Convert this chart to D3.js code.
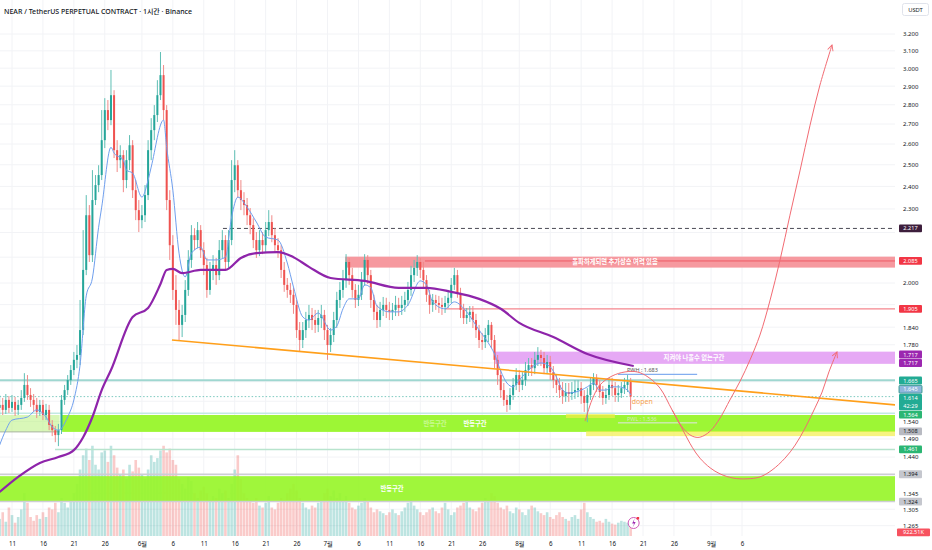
<!DOCTYPE html>
<html>
<head>
<meta charset="utf-8">
<script src="https://cdn.jsdelivr.net/npm/d3@7"></script>
<style>
  body { margin: 0; background: #fff; }
  svg { display: block; font-family: "Noto Sans", "Noto Sans CJK KR", sans-serif; }
</style>
</head>
<body>
<svg width="932" height="550"></svg>
<script>
"use strict";

// 12h candles starting 2025-05-09 00:00, open of each candle = previous close
const firstOpen = 1.58;
const closes = [
  1.589, 1.574, 1.604, 1.580, 1.598, 1.574, 1.589, 1.610, 1.650, 1.619,
  1.604, 1.589, 1.568, 1.589, 1.559, 1.574, 1.530, 1.515, 1.501, 1.515,
  1.604, 1.634, 1.665, 1.697, 1.730, 1.746, 1.830, 2.050, 2.273, 2.108,
  2.339, 2.406, 2.452, 2.619, 2.772, 2.720, 2.851, 2.570, 2.522, 2.546,
  2.429, 2.522, 2.594, 2.383, 2.295, 2.252, 2.273, 2.361, 2.570, 2.669,
  2.746, 2.851, 2.961, 2.772, 2.339, 2.148, 1.974, 1.901, 1.848, 1.883,
  1.974, 2.089, 2.189, 2.169, 2.210, 2.128, 2.069, 1.974, 2.050, 2.069,
  2.030, 2.128, 2.169, 2.081, 2.169, 2.429, 2.498, 2.383, 2.339, 2.317,
  2.273, 2.231, 2.169, 2.128, 2.169, 2.148, 2.210, 2.244, 2.189, 2.148,
  2.128, 2.050, 1.993, 1.974, 1.956, 1.919, 1.830, 1.796, 1.830, 1.865,
  1.883, 1.865, 1.848, 1.872, 1.883, 1.830, 1.779, 1.813, 1.865, 1.937,
  1.974, 2.011, 2.081, 2.030, 1.974, 1.937, 1.956, 2.011, 2.089, 2.030,
  1.937, 1.894, 1.865, 1.901, 1.919, 1.901, 1.894, 1.901, 1.919, 1.908,
  1.919, 1.937, 1.974, 2.030, 2.058, 2.081, 2.050, 2.011, 1.956, 1.919,
  1.937, 1.926, 1.919, 1.912, 1.926, 1.945, 1.993, 2.030, 1.963, 1.901,
  1.872, 1.883, 1.894, 1.865, 1.830, 1.796, 1.789, 1.813, 1.848, 1.796,
  1.730, 1.681, 1.634, 1.604, 1.589, 1.619, 1.650, 1.681, 1.650, 1.665,
  1.697, 1.713, 1.703, 1.730, 1.746, 1.736, 1.703, 1.723, 1.690, 1.665,
  1.650, 1.634, 1.616, 1.628, 1.622, 1.628, 1.634, 1.640, 1.616, 1.595,
  1.619, 1.650, 1.672, 1.650, 1.628, 1.610, 1.619, 1.650, 1.640, 1.619,
  1.625, 1.640, 1.650, 1.659, 1.614
];
const highs = [
  1.619, 1.610, 1.622, 1.616, 1.619, 1.613, 1.604, 1.634, 1.687, 1.681,
  1.640, 1.622, 1.610, 1.604, 1.604, 1.592, 1.589, 1.544, 1.527, 1.533,
  1.619, 1.650, 1.681, 1.713, 1.756, 1.779, 1.937, 2.210, 2.361, 2.317,
  2.475, 2.452, 2.498, 2.772, 2.835, 2.825, 2.990, 2.878, 2.619, 2.594,
  2.570, 2.570, 2.644, 2.619, 2.429, 2.339, 2.317, 2.406, 2.619, 2.730,
  2.798, 2.933, 3.093, 3.018, 2.798, 2.383, 2.189, 2.030, 1.937, 1.919,
  2.011, 2.128, 2.231, 2.218, 2.244, 2.231, 2.160, 2.097, 2.081, 2.108,
  2.097, 2.169, 2.210, 2.189, 2.210, 2.522, 2.570, 2.522, 2.429, 2.374,
  2.348, 2.304, 2.260, 2.202, 2.210, 2.202, 2.244, 2.295, 2.273, 2.218,
  2.177, 2.148, 2.081, 2.019, 2.000, 1.982, 1.937, 1.858, 1.858, 1.894,
  1.919, 1.908, 1.901, 1.901, 1.919, 1.901, 1.848, 1.837, 1.894, 1.967,
  2.004, 2.050, 2.112, 2.097, 2.058, 1.996, 1.993, 2.042, 2.112, 2.108,
  2.050, 1.956, 1.919, 1.930, 1.948, 1.945, 1.930, 1.926, 1.952, 1.945,
  1.952, 1.967, 2.004, 2.066, 2.089, 2.108, 2.097, 2.081, 2.030, 1.974,
  1.959, 1.956, 1.952, 1.945, 1.952, 1.974, 2.019, 2.058, 2.050, 1.982,
  1.923, 1.908, 1.915, 1.915, 1.887, 1.848, 1.820, 1.837, 1.865, 1.858,
  1.813, 1.746, 1.697, 1.656, 1.619, 1.640, 1.672, 1.703, 1.697, 1.690,
  1.723, 1.736, 1.736, 1.756, 1.772, 1.763, 1.756, 1.746, 1.743, 1.710,
  1.684, 1.672, 1.659, 1.656, 1.656, 1.659, 1.665, 1.665, 1.659, 1.634,
  1.640, 1.672, 1.687, 1.684, 1.665, 1.647, 1.640, 1.672, 1.672, 1.659,
  1.650, 1.659, 1.672, 1.681, 1.672
];
const lows = [
  1.559, 1.559, 1.562, 1.565, 1.568, 1.556, 1.559, 1.574, 1.598, 1.604,
  1.583, 1.568, 1.550, 1.556, 1.544, 1.544, 1.515, 1.498, 1.481, 1.470,
  1.504, 1.589, 1.619, 1.650, 1.681, 1.703, 1.713, 1.813, 2.030, 2.081,
  2.081, 2.317, 2.374, 2.429, 2.580, 2.669, 2.694, 2.532, 2.466, 2.484,
  2.374, 2.392, 2.475, 2.348, 2.252, 2.202, 2.218, 2.244, 2.339, 2.522,
  2.619, 2.710, 2.825, 2.720, 2.295, 2.089, 1.937, 1.848, 1.796, 1.806,
  1.858, 1.952, 2.058, 2.128, 2.136, 2.097, 2.030, 1.945, 1.956, 2.011,
  1.993, 2.011, 2.097, 2.050, 2.058, 2.148, 2.374, 2.348, 2.295, 2.273,
  2.231, 2.193, 2.136, 2.097, 2.104, 2.112, 2.120, 2.185, 2.160, 2.120,
  2.097, 2.019, 1.967, 1.945, 1.926, 1.887, 1.803, 1.756, 1.769, 1.803,
  1.837, 1.830, 1.820, 1.823, 1.837, 1.796, 1.730, 1.756, 1.789, 1.837,
  1.908, 1.945, 1.982, 1.993, 1.945, 1.908, 1.915, 1.937, 1.989, 1.996,
  1.908, 1.865, 1.837, 1.841, 1.879, 1.872, 1.865, 1.865, 1.879, 1.879,
  1.883, 1.894, 1.915, 1.952, 2.004, 2.027, 2.019, 1.982, 1.930, 1.887,
  1.894, 1.901, 1.890, 1.883, 1.890, 1.908, 1.926, 1.974, 1.945, 1.872,
  1.851, 1.851, 1.858, 1.837, 1.803, 1.769, 1.763, 1.769, 1.789, 1.769,
  1.703, 1.650, 1.610, 1.586, 1.568, 1.574, 1.604, 1.634, 1.628, 1.634,
  1.647, 1.678, 1.678, 1.684, 1.710, 1.710, 1.684, 1.684, 1.665, 1.640,
  1.625, 1.610, 1.592, 1.598, 1.598, 1.604, 1.607, 1.613, 1.592, 1.568,
  1.538, 1.604, 1.634, 1.628, 1.610, 1.589, 1.592, 1.604, 1.616, 1.598,
  1.598, 1.610, 1.622, 1.628, 1.574
];
const volumes = [
  18, 25, 15, 30, 22, 14, 20, 28, 45, 35, 20, 16, 22, 18, 25, 20, 30, 28, 35, 25,
  40, 35, 30, 38, 45, 55, 70,
  85, 92, 80, 95, 75, 70, 88, 90, 78, 95, 85, 72, 65, 70, 60, 75, 68, 80, 72, 65,
  60, 70, 85, 78, 82, 90, 95, 88, 92,
  80, 75, 60, 55, 50, 62, 58, 45, 40, 48, 52, 45, 38, 42, 40, 50, 45, 48, 40, 55,
  70, 85, 60, 45, 40,
  38, 35, 40, 32, 30, 35, 42, 30, 28, 35, 40, 38, 45, 50, 55, 48, 40, 35, 30, 28,
  32, 30, 35, 38, 45, 50, 42, 48, 40, 45,
  38, 42, 35, 30, 28, 32, 35, 40, 36, 30, 25, 28, 26, 24, 22, 25, 28, 24, 22, 26,
  30, 35, 38, 32, 28, 25, 22, 25, 28, 30, 26, 24, 30, 35, 28, 22, 25, 30, 32, 35,
  38, 30, 28, 26, 30, 35, 40, 38, 45, 42,
  35, 30, 28, 32, 26, 24, 30, 28, 25, 22, 28, 32, 30, 26, 24, 22, 25, 20, 18, 22,
  25, 20, 18, 16, 20, 22, 18, 28, 35, 25, 20, 18, 15, 16, 14, 18, 15, 13, 12, 14,
  16, 15, 14, 12
];

// moving averages: [half-day index, price]
const fastMa = [
  [0, 1.473], [2, 1.515], [4, 1.544], [9, 1.553], [12, 1.574], [15, 1.553], [17, 1.524],
  [19, 1.515], [22, 1.553], [24, 1.604], [26, 1.713], [28, 1.952], [30, 2.019], [32, 2.222],
  [33, 2.308], [36, 2.584], [37, 2.556], [40, 2.522], [41, 2.475], [43, 2.461], [46, 2.352],
  [48, 2.429], [49, 2.489], [53, 2.72], [54, 2.584], [56, 2.383], [58, 2.116], [60, 2.023],
  [62, 2.116], [65, 2.14], [67, 2.089], [70, 2.089], [73, 2.1], [75, 2.265], [77, 2.352],
  [80, 2.308], [83, 2.244], [86, 2.181], [90, 2.169], [93, 2.077], [95, 1.985], [98, 1.876],
  [100, 1.865], [103, 1.89], [107, 1.83], [109, 1.844], [111, 1.905], [113, 1.941],
  [116, 1.941], [118, 1.993], [120, 1.982], [122, 1.915], [126, 1.894], [129, 1.894],
  [132, 1.919], [136, 2.008], [138, 1.993], [140, 1.93], [144, 1.905], [147, 1.93],
  [151, 1.894], [155, 1.83], [158, 1.786], [160, 1.749], [162, 1.694], [164, 1.656],
  [166, 1.644], [168, 1.665], [170, 1.687], [175, 1.72], [178, 1.707], [180, 1.675],
  [182, 1.634], [184, 1.625], [188, 1.634], [190, 1.644], [192, 1.656], [194, 1.634],
  [196, 1.634], [198, 1.644], [200, 1.644], [203, 1.634], [204, 1.619]
];
const slowMa = [
  [0, 1.348], [6, 1.387], [13, 1.424], [19, 1.44], [24, 1.459], [27, 1.495], [30, 1.553],
  [33, 1.634], [36, 1.697], [43, 1.876], [48, 1.908], [52, 1.996], [54, 2.05], [56, 2.054],
  [59, 2.038], [65, 2.05], [73, 2.05], [78, 2.097], [83, 2.116], [90, 2.12], [95, 2.1],
  [100, 2.062], [107, 2.019], [118, 2.008], [129, 1.982], [138, 1.982], [146, 1.967],
  [155, 1.941], [162, 1.905], [168, 1.855], [179, 1.806], [190, 1.749], [205, 1.71]
];

// drawn projections: [half-day index, price]
const projectionHigh = [
  [189.3, 1.541], [191.5, 1.604], [194.1, 1.65], [198, 1.678], [202.2, 1.691], [206.1, 1.691],
  [209.6, 1.675], [213.5, 1.64], [217.4, 1.574], [220.9, 1.521], [223.9, 1.498], [226.4, 1.495],
  [229.7, 1.512], [232.9, 1.55], [236.1, 1.604], [239.4, 1.662], [242.6, 1.73], [245.8, 1.813],
  [249.1, 1.937], [252.3, 2.089], [255.5, 2.273], [258.8, 2.475], [262, 2.694], [265.2, 2.906],
  [269.1, 3.134]
];
const projectionLow = [
  [217.4, 1.574], [220.9, 1.515], [223.9, 1.467], [226.4, 1.437], [229.7, 1.411], [232.9, 1.395],
  [237.1, 1.384], [241.6, 1.382], [245.8, 1.387], [249.7, 1.405], [253.9, 1.437], [257.2, 1.473],
  [260.4, 1.521], [263.6, 1.58], [265.9, 1.628], [268.1, 1.691], [270.7, 1.756]
];

// drawn zones: [from half-day index, top price, bottom price]
const resistZone = [111.7, 2.102, 2.059];
const holdZone = [160.2, 1.757, 1.717];
const reboundZone = [20.2, 1.559, 1.51];
const reboundZoneOld = [0, 1.559, 1.51, 19.4];
const deepZone = [0, 1.389, 1.325];
const yellowZones = [[183.1, 1.562, 1.55, 198.9], [189.6, 1.512, 1.498, 300]];
const trendline = [[55.7, 1.796], [289.5, 1.589]];
const prevWeek = { from: 199.9, to: 225.5, high: 1.683, low: 1.536 };

// grid levels, and the ones whose label is not hidden by a price tag
const priceTicks = [3.2, 3.1, 3.0, 2.9, 2.8, 2.7, 2.6, 2.5, 2.4, 2.3, 2.2, 2.1, 2.0, 1.92,
  1.84, 1.78, 1.72, 1.66, 1.6, 1.54, 1.49, 1.44, 1.39, 1.345, 1.305, 1.265];
const priceLabels = [3.2, 3.1, 3.0, 2.9, 2.8, 2.7, 2.6, 2.5, 2.4, 2.3, 2.0,
  1.84, 1.78, 1.54, 1.49, 1.44, 1.345, 1.305, 1.265];
const dateTicks = ["2025-05-11", "2025-05-16", "2025-05-21", "2025-05-26", "2025-06-01",
  "2025-06-06", "2025-06-11", "2025-06-16", "2025-06-21", "2025-06-26", "2025-07-01",
  "2025-07-06", "2025-07-11", "2025-07-16", "2025-07-21", "2025-07-26", "2025-08-01",
  "2025-08-06", "2025-08-11", "2025-08-16", "2025-08-21", "2025-08-26", "2025-09-01",
  "2025-09-06"];

window.addEventListener("load", drawChart);

function drawChart() {
  const svg = d3.select("svg");
  const plotRight = 895;
  const plotBottom = 536;
  const start = new Date(2025, 4, 9);

  const x = d3
    .scaleTime()
    .domain([new Date(2025, 4, 11), new Date(2025, 8, 6)])
    .range([12, 742]);
  const tx = (t) => x(new Date(start.getTime() + t * 432e5));
  const y = d3.scaleLog().domain([3.2, 1.265]).range([34, 525.7]);
  const vy = d3.scaleLinear().domain([0, 100]).range([plotBottom, plotBottom - 95]);

  const defs = svg.append("defs");
  defs.append("clipPath").attr("id", "plot")
    .append("rect").attr("width", plotRight).attr("height", plotBottom);
  defs.append("marker")
    .attr("id", "arrow")
    .attr("viewBox", "0 0 10 10")
    .attr("refX", 9).attr("refY", 5)
    .attr("markerWidth", 7).attr("markerHeight", 7)
    .attr("markerUnits", "userSpaceOnUse")
    .attr("orient", "auto")
    .append("path")
    .attr("d", "M1,1 L9,5 L1,9")
    .attr("fill", "none")
    .attr("stroke", "#f26b73")
    .attr("stroke-width", 1.3);

  const dates = dateTicks.map((d) => new Date(d + "T00:00:00"));

  // grid
  const grid = svg.append("g").attr("stroke", "#f2f3f6").attr("stroke-width", 1);
  grid.selectAll(".gx").data(dates).enter().append("line")
    .attr("x1", (d) => x(d)).attr("x2", (d) => x(d))
    .attr("y1", 0).attr("y2", plotBottom);
  grid.selectAll(".gy").data(priceTicks).enter().append("line")
    .attr("x1", 0).attr("x2", plotRight)
    .attr("y1", (d) => y(d)).attr("y2", (d) => y(d));

  const plot = svg.append("g").attr("clip-path", "url(#plot)");

  const candles = closes.map((c, i) => {
    const o = i === 0 ? firstOpen : closes[i - 1];
    return { t: i, o, c, h: Math.max(highs[i], o, c), l: Math.min(lows[i], o, c), v: volumes[i] };
  });

  // volume
  plot.selectAll(".vol").data(candles).enter().append("rect")
    .attr("x", (d) => tx(d.t) - 1.3)
    .attr("width", 2.6)
    .attr("y", (d) => vy(d.v))
    .attr("height", (d) => plotBottom - vy(d.v))
    .attr("fill", (d) => (d.c >= d.o ? "#26a69a" : "#ef5350"))
    .attr("opacity", 0.3);

  const band = (from, top, bottom, to, fill, op) =>
    plot.append("rect")
      .attr("x", tx(from))
      .attr("width", (to === undefined ? plotRight : tx(to)) - tx(from))
      .attr("y", y(top))
      .attr("height", y(bottom) - y(top))
      .attr("fill", fill)
      .attr("opacity", op);
  const hline = (from, price, color, w, dash, to) =>
    plot.append("line")
      .attr("x1", tx(from)).attr("x2", to === undefined ? plotRight : tx(to))
      .attr("y1", y(price)).attr("y2", y(price))
      .attr("stroke", color).attr("stroke-width", w)
      .attr("stroke-dasharray", dash);

  // zones and levels
  band(reboundZoneOld[0], reboundZoneOld[1], reboundZoneOld[2], reboundZoneOld[3], "#b9f07e", 0.55);
  hline(0, reboundZoneOld[2], "#a9b4a0", 1, null, reboundZoneOld[3]);
  band(reboundZone[0], reboundZone[1], reboundZone[2], undefined, "#98f52a", 0.95);
  band(deepZone[0], deepZone[1], deepZone[2], undefined, "#98f52a", 0.92);
  hline(0, 1.394, "#cdced4", 1.5, null);
  hline(0, 1.324, "#cdced4", 1.5, null);
  yellowZones.forEach((z) => band(z[0], z[1], z[2], z[3], "#f2ee4a", 0.7));
  hline(0, 1.665, "#9fd7d0", 2, null);
  hline(0, 1.564, "#c3e9e3", 1.5, null);
  hline(17.9, 1.461, "#b8e4cd", 1.5, null);
  hline(0, 1.614, "#7cc9bf", 1, "1.5,2");
  hline(72.2, 2.217, "#4a4a55", 1, "4,3");
  band(resistZone[0], resistZone[1], resistZone[2], undefined, "#f6939a", 0.95);
  hline(137.5, 2.085, "#ef5a66", 1, null);
  hline(144, 1.905, "#f5868e", 1.2, null);
  band(holdZone[0], holdZone[1], holdZone[2], undefined, "#e6a9f5", 1);

  // candles
  const cg = plot.append("g");
  cg.selectAll(".wick").data(candles).enter().append("line")
    .attr("x1", (d) => tx(d.t)).attr("x2", (d) => tx(d.t))
    .attr("y1", (d) => y(d.h)).attr("y2", (d) => y(d.l))
    .attr("stroke", (d) => (d.c >= d.o ? "#5fbfb4" : "#f08a88"))
    .attr("stroke-width", 1);
  cg.selectAll(".body").data(candles).enter().append("rect")
    .attr("x", (d) => tx(d.t) - 1)
    .attr("width", 2)
    .attr("y", (d) => y(Math.max(d.o, d.c)))
    .attr("height", (d) => Math.max(0.8, Math.abs(y(d.o) - y(d.c))))
    .attr("fill", (d) => (d.c >= d.o ? "#26a69a" : "#ef5350"));

  // moving averages
  const maLine = d3.line()
    .x((d) => tx(d[0]))
    .y((d) => y(d[1]))
    .curve(d3.curveMonotoneX);
  plot.append("path").attr("d", maLine(fastMa))
    .attr("fill", "none").attr("stroke", "#6f9fee").attr("stroke-width", 1);
  plot.append("path").attr("d", maLine(slowMa))
    .attr("fill", "none").attr("stroke", "#8e24aa").attr("stroke-width", 2.2);

  // trendline
  plot.append("line")
    .attr("x1", tx(trendline[0][0])).attr("y1", y(trendline[0][1]))
    .attr("x2", tx(trendline[1][0])).attr("y2", y(trendline[1][1]))
    .attr("stroke", "#ff9f1a").attr("stroke-width", 1.5);

  // previous week high / low
  hline(prevWeek.from, prevWeek.high, "#84aef0", 1.2, null, prevWeek.to);
  hline(prevWeek.from, prevWeek.low, "#e2e4e8", 1, null, prevWeek.to);
  plot.append("text").attr("x", tx(prevWeek.from) + 9).attr("y", y(prevWeek.high) - 2)
    .attr("font-size", 5.5).attr("fill", "#555").text("PWH : 1.683");
  plot.append("text").attr("x", tx(prevWeek.from) + 9).attr("y", y(prevWeek.low) - 1.5)
    .attr("font-size", 5.5).attr("fill", "#d6efc0").text("PWL : 1.536");
  plot.append("text").attr("x", tx(204) + 1).attr("y", y(1.6) + 3)
    .attr("font-size", 7).attr("fill", "#f5a14e").text("dopen");

  // projection curves
  const projLine = d3.line()
    .x((d) => tx(d[0]))
    .y((d) => y(d[1]))
    .curve(d3.curveCatmullRom);
  [projectionHigh, projectionLow].forEach((p) =>
    plot.append("path").attr("d", projLine(p))
      .attr("fill", "none").attr("stroke", "#f26b73").attr("stroke-width", 1)
      .attr("marker-end", "url(#arrow)"));

  // zone texts
  const kr = (tx0, ty, str, op) =>
    svg.append("text")
      .attr("x", tx0).attr("y", ty)
      .attr("text-anchor", "middle").attr("dominant-baseline", "central")
      .attr("font-family", "'Noto Sans CJK KR', sans-serif")
      .attr("font-size", 6.3).attr("font-weight", 700)
      .attr("fill", "#fff").attr("opacity", op)
      .text(str);
  kr(615, y(2.085) + 0.5, "돌파하게되면 추가상승 여력 있음", 1);
  kr(694, (y(holdZone[1]) + y(holdZone[2])) / 2, "지켜야 나올수 없는구간", 1);
  kr(475, (y(reboundZone[1]) + y(reboundZone[2])) / 2, "반등구간", 1);
  kr(435, (y(reboundZone[1]) + y(reboundZone[2])) / 2, "반등구간", 0.45);
  kr(392, (y(deepZone[1]) + y(deepZone[2])) / 2, "반등구간", 1);

  // alert icon
  svg.append("circle").attr("cx", tx(204) + 3).attr("cy", 523).attr("r", 5.5)
    .attr("fill", "#fff").attr("stroke", "#d05ab8").attr("stroke-width", 1);
  svg.append("path")
    .attr("d", `M${tx(204) + 4},518.5 L${tx(204) + 1.5},523.5 L${tx(204) + 3.5},523.5 L${tx(204) + 2},527.5 L${tx(204) + 5},522 L${tx(204) + 3},522 Z`)
    .attr("fill", "#9c27b0");
  svg.append("rect").attr("x", tx(204) + 6).attr("y", 517).attr("width", 2.5).attr("height", 2.5)
    .attr("fill", "#f23645");

  // price axis
  svg.append("rect").attr("x", plotRight).attr("y", 0).attr("width", 932 - plotRight)
    .attr("height", 550).attr("fill", "#fff");
  svg.append("g")
    .attr("transform", `translate(${plotRight + 8},0)`)
    .call(d3.axisRight(y).tickValues(priceLabels).tickSize(0).tickPadding(0)
      .tickFormat((d) => d3.format(".3f")(d)))
    .call((g) => g.select(".domain").remove())
    .selectAll("text")
    .attr("font-family", "'Noto Sans', sans-serif")
    .attr("font-size", 6)
    .attr("fill", "#131722");

  // time axis
  svg.append("g")
    .attr("transform", `translate(0,${plotBottom + 3})`)
    .call(d3.axisBottom(x).tickValues(dates).tickSize(0).tickPadding(3)
      .tickFormat((d) => (d.getDate() === 1 ? d.getMonth() + 1 + "월" : d.getDate())))
    .call((g) => g.select(".domain").remove())
    .selectAll("text")
    .attr("font-family", "'Noto Sans', 'Noto Sans CJK KR', sans-serif")
    .attr("font-size", 6.2)
    .attr("fill", "#131722");

  // price labels
  const tag = (yy, text, fill, color, w, stroke) => {
    svg.append("rect")
      .attr("x", 899).attr("y", yy - 3.9).attr("width", w || 23).attr("height", 7.8)
      .attr("rx", 1).attr("fill", fill)
      .attr("stroke", stroke || "none").attr("stroke-width", 0.8);
    svg.append("text")
      .attr("x", 899 + (w || 23) / 2).attr("y", yy)
      .attr("text-anchor", "middle").attr("dominant-baseline", "central")
      .attr("font-size", 5.6).attr("fill", color).text(text);
  };
  tag(y(2.217), "2.217", "#3d1e3c", "#fff");
  tag(y(2.085), "2.085", "#f23645", "#fff");
  tag(y(1.905), "1.905", "#f23645", "#fff");
  tag(354.5, "1.717", "#9c27b0", "#fff");
  tag(363, "1.717", "#9c27b0", "#fff");
  tag(380.5, "1.665", "#22ab94", "#fff");
  tag(389.3, "1.645", "#8fb6dc", "#fff", 23, "#1f8f80");
  svg.append("rect").attr("x", 899).attr("y", 394).attr("width", 23).attr("height", 16.2)
    .attr("rx", 1).attr("fill", "#22ab94");
  svg.append("text").attr("x", 910.5).attr("y", 398).attr("text-anchor", "middle")
    .attr("dominant-baseline", "central").attr("font-size", 5.6).attr("fill", "#fff").text("1.614");
  svg.append("text").attr("x", 910.5).attr("y", 406.3).attr("text-anchor", "middle")
    .attr("dominant-baseline", "central").attr("font-size", 5.6).attr("fill", "#fff").text("42:29");
  tag(414.7, "1.564", "#2bb673", "#fff");
  tag(431.3, "1.508", "#b8bac2", "#131722");
  tag(y(1.461), "1.461", "#2bb673", "#fff");
  tag(y(1.394), "1.394", "#c5c7ce", "#131722");
  tag(y(1.324), "1.324", "#c5c7ce", "#131722");
  svg.append("rect").attr("x", 897).attr("y", 528.5).attr("width", 33).attr("height", 7.8)
    .attr("rx", 1).attr("fill", "#f7525f");
  svg.append("text").attr("x", 913.5).attr("y", 532.4).attr("text-anchor", "middle")
    .attr("dominant-baseline", "central").attr("font-size", 5.6).attr("fill", "#fff").text("922.51K");

  // currency box and title
  svg.append("rect").attr("x", 902.5).attr("y", 3.5).attr("width", 26).attr("height", 12)
    .attr("rx", 2).attr("fill", "#fff").attr("stroke", "#e0e3eb");
  svg.append("text").attr("x", 915.5).attr("y", 9.8).attr("text-anchor", "middle")
    .attr("dominant-baseline", "central").attr("font-size", 5.8).attr("fill", "#131722").text("USDT");
  svg.append("text")
    .attr("x", 4).attr("y", 11.5)
    .attr("dominant-baseline", "central")
    .attr("font-family", "'Noto Sans', 'Noto Sans CJK KR', sans-serif")
    .attr("font-size", 7).attr("font-weight", 500).attr("fill", "#131722")
    .text("NEAR / TetherUS PERPETUAL CONTRACT · 1시간 · Binance");
}
</script>
</body>
</html>
